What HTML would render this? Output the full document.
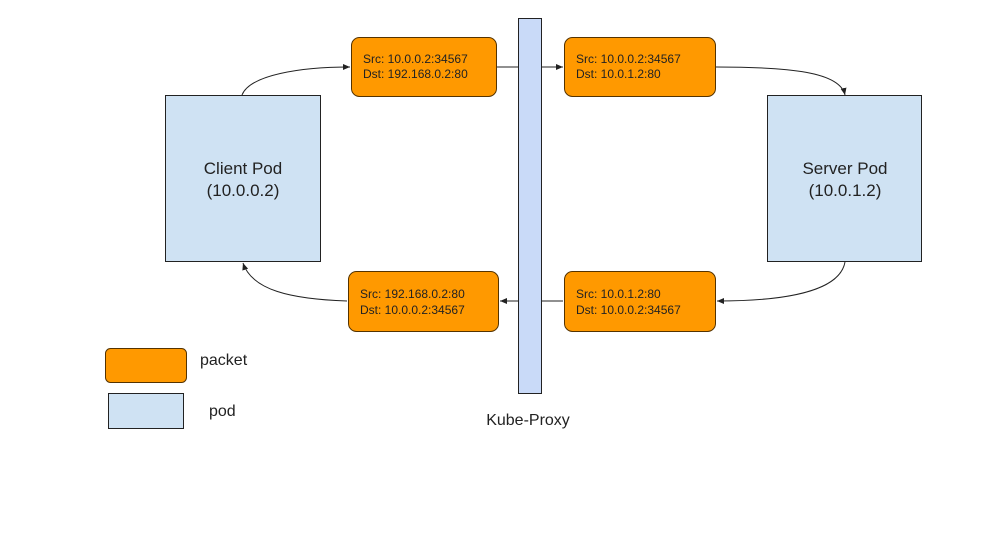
<!DOCTYPE html>
<html><head><style>
body{margin:0;background:#fff;}
svg{display:block;font-family:"Liberation Sans",Arial,sans-serif;}
</style></head><body>
<svg width="988" height="535" viewBox="0 0 988 535" xmlns="http://www.w3.org/2000/svg">
<defs><marker id="a" markerWidth="8" markerHeight="6" refX="7" refY="3" orient="auto" markerUnits="userSpaceOnUse"><path d="M0,0 L7,3 L0,6z" fill="#222"/></marker></defs>
<rect width="988" height="535" fill="#fff"/>
<rect x="518.5" y="18.5" width="23" height="375" fill="#c9daf8" stroke="#222"/>
<rect x="165.5" y="95.5" width="155" height="166" fill="#cfe2f3" stroke="#222"/>
<rect x="767.5" y="95.5" width="154" height="166" fill="#cfe2f3" stroke="#222"/>
<g font-size="17" fill="#222" text-anchor="middle">
<text x="243" y="174">Client Pod</text><text x="243" y="196">(10.0.0.2)</text>
<text x="845" y="174">Server Pod</text><text x="845" y="196">(10.0.1.2)</text>
<text x="528" y="425" font-size="16">Kube-Proxy</text>
</g>
<g fill="#ff9900" stroke="#553300">
<rect x="351.5" y="37.5" width="145" height="59" rx="8"/>
<rect x="564.5" y="37.5" width="151" height="59" rx="8"/>
<rect x="348.5" y="271.5" width="150" height="60" rx="8"/>
<rect x="564.5" y="271.5" width="151" height="60" rx="8"/>
<rect x="105.5" y="348.5" width="81" height="34" rx="5"/>
</g>
<rect x="108.5" y="393.5" width="75" height="35" fill="#cfe2f3" stroke="#222"/>
<g font-size="12" fill="#222">
<text x="363" y="63">Src: 10.0.0.2:34567</text><text x="363" y="78">Dst: 192.168.0.2:80</text>
<text x="576" y="63">Src: 10.0.0.2:34567</text><text x="576" y="78">Dst: 10.0.1.2:80</text>
<text x="360" y="298">Src: 192.168.0.2:80</text><text x="360" y="314">Dst: 10.0.0.2:34567</text>
<text x="576" y="298">Src: 10.0.1.2:80</text><text x="576" y="314">Dst: 10.0.0.2:34567</text>
</g>
<g font-size="16" fill="#222"><text x="200" y="365">packet</text><text x="209" y="416">pod</text></g>
<g fill="none" stroke="#222" stroke-width="1">
<path d="M242,95 C250,75 300,67 350,67" marker-end="url(#a)"/>
<path d="M497,67 H518"/>
<path d="M542,67 H563" marker-end="url(#a)"/>
<path d="M716,67 C790,67 840,72 845,95" marker-end="url(#a)"/>
<path d="M845,262 C840,290 790,301 717,301" marker-end="url(#a)"/>
<path d="M563,301 H542"/>
<path d="M518,301 H500" marker-end="url(#a)"/>
<path d="M347,301 C290,299 252,290 243,263" marker-end="url(#a)"/>
</g>
</svg>
</body></html>
